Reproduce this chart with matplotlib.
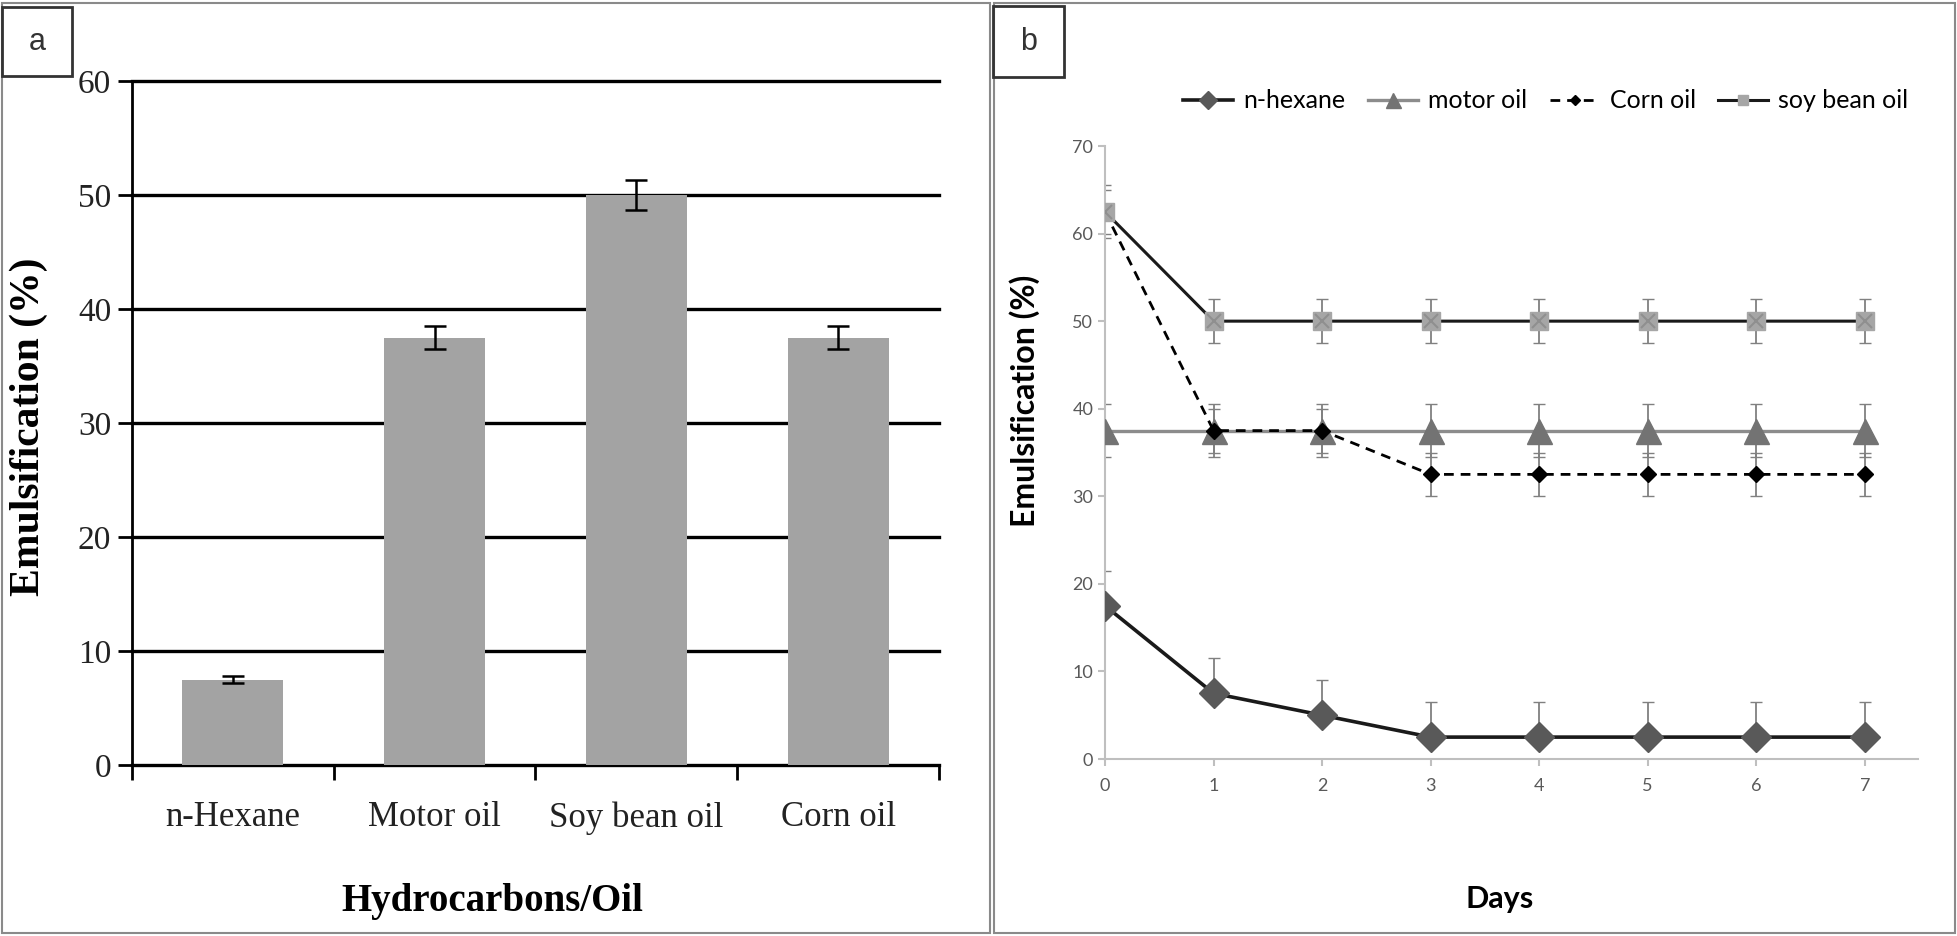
import matplotlib
matplotlib.use("Agg")
import matplotlib.pyplot as plt
from matplotlib.patches import Rectangle

# panel a - bar chart
categories = ["n-Hexane", "Motor oil", "Soy bean oil", "Corn oil"]
bar_values = [7.5, 37.5, 50.0, 37.5]
bar_errors = [0.3, 1.0, 1.35, 1.0]

# panel b - emulsification over days
days = [0, 1, 2, 3, 4, 5, 6, 7]
hexane = [17.5, 7.5, 5.0, 2.5, 2.5, 2.5, 2.5, 2.5]
hexane_err = [4, 4, 4, 4, 4, 4, 4, 4]
motor_oil = [37.5, 37.5, 37.5, 37.5, 37.5, 37.5, 37.5, 37.5]
motor_err = [3, 3, 3, 3, 3, 3, 3, 3]
corn_oil = [62.5, 37.5, 37.5, 32.5, 32.5, 32.5, 32.5, 32.5]
corn_err = [3, 2.5, 2.5, 2.5, 2.5, 2.5, 2.5, 2.5]
soy_oil = [62.5, 50, 50, 50, 50, 50, 50, 50]
soy_err = [2.5, 2.5, 2.5, 2.5, 2.5, 2.5, 2.5, 2.5]

W, H = 1958, 936


def px_box(x0, y0, x1, y1):
    """pixel box (top-left origin) -> figure fraction [l, b, w, h]"""
    return [x0 / W, 1 - y1 / H, (x1 - x0) / W, (y1 - y0) / H]


fig = plt.figure(figsize=(W / 100, H / 100), dpi=100)

# panel frames
for box in [(2, 3, 990, 933), (994, 3, 1955, 933)]:
    l, b, w, h = px_box(*box)
    fig.add_artist(Rectangle((l, b), w, h, transform=fig.transFigure,
                             fill=False, edgecolor='#8a8a8a', lw=1.5))
for box, letter in [((2, 7, 72, 76), 'a'), ((993, 6, 1064, 77), 'b')]:
    l, b, w, h = px_box(*box)
    fig.add_artist(Rectangle((l, b), w, h, transform=fig.transFigure,
                             fill=False, edgecolor='#333333', lw=2))
    fig.text(l + w / 2, b + h / 2, letter, ha='center', va='center',
             fontsize=22, family='Liberation Sans', color='#333333')

# ---------------- panel a ----------------
serif = 'Liberation Serif'
ax = fig.add_axes(px_box(132, 81, 939, 765))
xpos = [0.5 + i for i in range(len(categories))]
ax.bar(xpos, bar_values, width=0.5, color='#a3a3a3', zorder=3)
ax.errorbar(xpos, bar_values, yerr=bar_errors, fmt='none', ecolor='black',
            elinewidth=1.8, capsize=8, capthick=1.8, zorder=4)
ax.set_xlim(0, 4)
ax.set_ylim(0, 60)
for v in range(0, 61, 10):
    ax.axhline(v, color='black', lw=2.4, zorder=1, clip_on=False)
for s in ['top', 'right', 'bottom']:
    ax.spines[s].set_visible(False)
ax.spines['left'].set_linewidth(2)
ax.spines['left'].set_zorder(5)
ax.set_yticks(range(0, 61, 10))
ax.tick_params(axis='y', length=10, width=2, pad=5, labelsize=24)
ax.set_xticks([0, 1, 2, 3, 4])
ax.set_xticklabels([])
ax.tick_params(axis='x', which='major', length=11, width=2)
ax.set_xticks(xpos, minor=True)
ax.set_xticklabels(categories, minor=True)
ax.tick_params(axis='x', which='minor', length=0, pad=26, labelsize=25)
for lbl in ax.get_xticklabels(minor=True) + ax.get_yticklabels():
    lbl.set_family(serif)
    lbl.set_color('#222222')
ax.set_ylabel('Emulsification (%)', family=serif, fontweight='bold', fontsize=30)
ax.yaxis.set_label_coords(-0.104, 0.494)
ax.set_xlabel('Hydrocarbons/Oil', family=serif, fontweight='bold', fontsize=28)
ax.xaxis.set_label_coords(0.447, -0.172)

# ---------------- panel b ----------------
sans = 'Lato'
bx = fig.add_axes(px_box(1105, 146, 1918, 759))
ecol = '#808080'
bx.errorbar(days, hexane, yerr=[[0] * len(days), hexane_err], fmt='none',
            ecolor=ecol, elinewidth=1.3, capsize=4, zorder=2)
bx.errorbar(days, motor_oil, yerr=motor_err, fmt='none', ecolor=ecol,
            elinewidth=1.3, capsize=4, zorder=2)
bx.errorbar(days, corn_oil, yerr=corn_err, fmt='none', ecolor=ecol,
            elinewidth=1.3, capsize=4, zorder=2)
bx.errorbar(days, soy_oil, yerr=soy_err, fmt='none', ecolor=ecol,
            elinewidth=1.3, capsize=4, zorder=2)

bx.plot(days, hexane, color='#1a1a1a', lw=2.6, marker='D', ms=15,
        mfc='#595959', mec='#595959', label='n-hexane', zorder=5)
bx.plot(days, motor_oil, color='#8c8c8c', lw=2.4, marker='^', ms=18,
        mfc='#737373', mec='#737373', label='motor oil', zorder=4)
bx.plot(days, corn_oil, color='black', lw=2, ls=(0, (3.5, 2.5)), marker='D',
        ms=8, mfc='black', mec='black', label='Corn oil', zorder=6)
bx.plot(days, soy_oil, color='#1a1a1a', lw=2.2, marker='s', ms=13,
        mfc='#a6a6a6', mec='#a6a6a6', label='soy bean oil', zorder=7)
# the cross pattern on the soy bean squares
bx.plot(days, soy_oil, ls='none', marker='x', ms=10, mew=1.5,
        color='#8f8f8f', zorder=8)

bx.set_xlim(0, 7.49)
bx.set_ylim(0, 70)
bx.set_xticks(days)
bx.set_yticks(range(0, 71, 10))
for s in ['top', 'right']:
    bx.spines[s].set_visible(False)
for s in ['left', 'bottom']:
    bx.spines[s].set_color('#bfbfbf')
    bx.spines[s].set_linewidth(1.5)
bx.tick_params(axis='both', color='#bfbfbf', width=1.5, length=5,
               labelcolor='#595959', labelsize=13)
bx.tick_params(axis='x', pad=9)
for lbl in bx.get_xticklabels() + bx.get_yticklabels():
    lbl.set_family(sans)
bx.set_ylabel('Emulsification (%)', family=sans, fontweight='bold', fontsize=23)
bx.yaxis.set_label_coords(-0.08, 0.584)
bx.set_xlabel('Days', family=sans, fontweight='bold', fontsize=22)
bx.xaxis.set_label_coords(0.486, -0.205)

fig.legend(*bx.get_legend_handles_labels(), loc='center',
           bbox_to_anchor=(1546 / W, 1 - 101 / H), ncol=4, frameon=False,
           prop={'family': sans, 'size': 18}, handlelength=2.0,
           handletextpad=0.4, columnspacing=0.9, borderpad=0, markerscale=0.6)

fig.savefig('out.png', dpi=100)
